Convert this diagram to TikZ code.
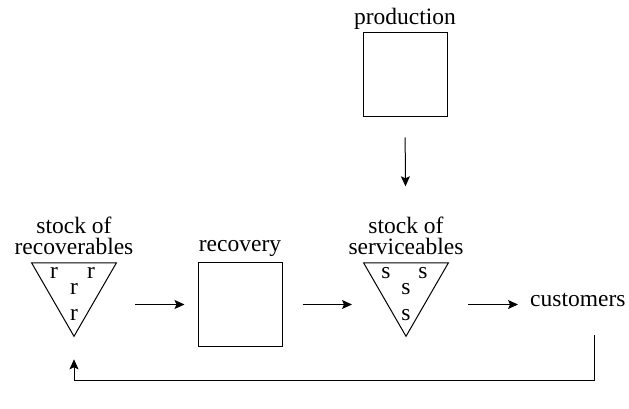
\documentclass[tikz,border=0pt]{standalone}
\usepackage{fontspec}
\setmainfont{Liberation Serif}
\usetikzlibrary{positioning}
\usetikzlibrary{arrows.meta}
\usetikzlibrary{shapes.geometric}

\tikzset{
  box/.style={draw, line width=1pt, minimum width=84pt, minimum height=84pt, inner sep=0pt},
  stock/.style={draw, line width=1pt, regular polygon, regular polygon sides=3,
    shape border rotate=180, minimum size=98pt, inner sep=0pt},
  lbl/.style={font=\fontsize{23.5}{21}\selectfont, align=center, inner sep=0pt},
  item/.style={font=\fontsize{23.5}{21}\selectfont, inner sep=0pt},
  flow/.style={-{Stealth[length=10pt, width=9pt, inset=2pt]}, line width=1pt},
}

\begin{document}
\begin{tikzpicture}[x=1pt, y=-1pt]
\useasboundingbox (0,0) rectangle (629,409);

% the two processes
\node[box] (prod) at (405,75) {};
\node[box] (recovery) at (240,304.5) {};

% the two stock points
\node[stock] (stockR) at (74,287.3) {};
\node[stock] (stockS) at (406,287.3) {};

% what sits in the stocks
\foreach \dx/\dy [count=\i] in {-20/-14, 17/-14, 0/2, 0/28} {
  \node[item] (r\i) at ([shift={(\dx,\dy)}]stockR.center) {r};
  \node[item] (s\i) at ([shift={(\dx,\dy)}]stockS.center) {s};
}

% labels
\node[lbl, anchor=base] (prodtxt) at ([yshift=8pt]prod.north) {production};
\node[lbl, anchor=base] (recoverytxt) at ([yshift=11pt]recovery.north) {recovery};
\node[lbl, above=7pt of stockR] (stockRtxt) {stock of\\recoverables};
\node[lbl, above=7pt of stockS] (stockStxt) {stock of\\serviceables};
\node[lbl, anchor=base west] (cust) at (530,306) {customers};

% flows
\draw[flow, shorten <=20pt, shorten >=76pt] (prod.south) -- (stockS.north);
\draw[flow, shorten <=61pt, shorten >=13pt] (stockR.center |- recovery.west) -- (recovery.west);
\draw[flow, shorten <=20pt, shorten >=54pt] (recovery.east) -- (stockS.center |- recovery.east);
\draw[flow, shorten <=62pt, shorten >=12pt] (stockS.center |- recovery.east) -- (cust.west |- recovery.east);

% return flow
\coordinate (retTop) at (594,335);
\coordinate (retBot) at (594,380);
\draw[flow, shorten >=22pt] (retTop) -- (retBot) -| (stockR.south);
\end{tikzpicture}
\end{document}
